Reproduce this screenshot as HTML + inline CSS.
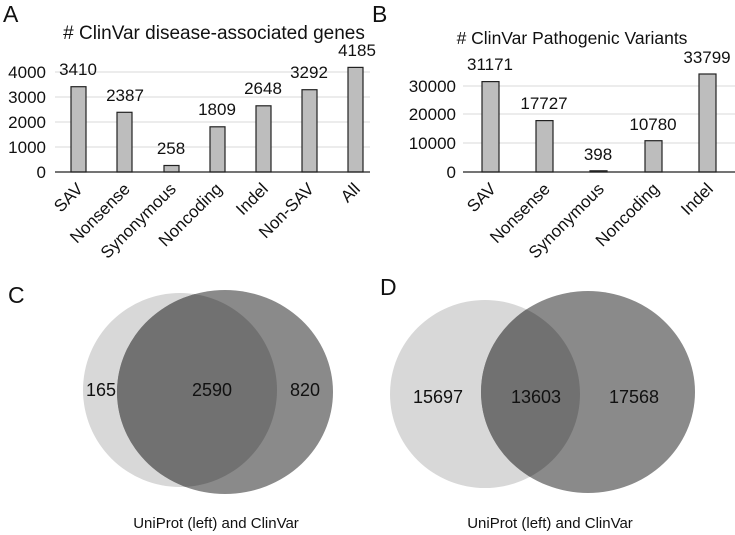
<!DOCTYPE html>
<html><head><meta charset="utf-8"><style>
html,body{margin:0;padding:0;background:#fff;}
svg{display:block;font-family:"Liberation Sans","DejaVu Sans",sans-serif;}
</style></head><body>
<svg width="735" height="535" viewBox="0 0 735 535" xmlns="http://www.w3.org/2000/svg">
<defs>
<clipPath id="cl"><ellipse cx="180" cy="390" rx="97" ry="97"/></clipPath>
<clipPath id="dl"><ellipse cx="485" cy="394" rx="95" ry="94"/></clipPath>
</defs>
<!-- Panel A -->
<text x="3" y="22" font-size="23" fill="#111">A</text>
<text x="214" y="39" font-size="19" text-anchor="middle" fill="#111"># ClinVar disease-associated genes</text>
<g stroke="#d9d9d9" stroke-width="1">
<line x1="55" y1="72" x2="370" y2="72"/><line x1="55" y1="97" x2="370" y2="97"/>
<line x1="55" y1="122" x2="370" y2="122"/><line x1="55" y1="147" x2="370" y2="147"/>
</g>
<g font-size="17" text-anchor="end" fill="#111">
<text x="46" y="78">4000</text><text x="46" y="103">3000</text><text x="46" y="128">2000</text><text x="46" y="153">1000</text><text x="46" y="178">0</text>
</g>
<g fill="#bdbdbd" stroke="#222" stroke-width="1.2">
<rect x="71" y="86.7" width="15" height="85.3"/>
<rect x="117" y="112.3" width="15" height="59.7"/>
<rect x="164" y="165.5" width="15" height="6.5"/>
<rect x="210" y="126.8" width="15" height="45.2"/>
<rect x="256" y="105.8" width="15" height="66.2"/>
<rect x="302" y="89.7" width="15" height="82.3"/>
<rect x="348" y="67.4" width="15" height="104.6"/>
</g>
<line x1="55" y1="172" x2="370" y2="172" stroke="#222" stroke-width="1.3"/>
<g font-size="17" text-anchor="middle" fill="#111">
<text x="78" y="75">3410</text><text x="125" y="101">2387</text><text x="171" y="154">258</text>
<text x="217" y="115">1809</text><text x="263" y="94">2648</text><text x="309" y="78">3292</text><text x="357" y="56">4185</text>
</g>
<g font-size="17" text-anchor="end" fill="#111">
<text transform="translate(84,190) rotate(-45)">SAV</text>
<text transform="translate(131,190) rotate(-45)">Nonsense</text>
<text transform="translate(177,190) rotate(-45)">Synonymous</text>
<text transform="translate(223,190) rotate(-45)">Noncoding</text>
<text transform="translate(269,190) rotate(-45)">Indel</text>
<text transform="translate(315,190) rotate(-45)">Non-SAV</text>
<text transform="translate(361,190) rotate(-45)">All</text>
</g>
<!-- Panel B -->
<text x="372" y="22" font-size="23" fill="#111">B</text>
<text x="572" y="44" font-size="17.5" text-anchor="middle" fill="#111"># ClinVar Pathogenic Variants</text>
<g stroke="#d9d9d9" stroke-width="1">
<line x1="463" y1="86" x2="735" y2="86"/><line x1="463" y1="114" x2="735" y2="114"/><line x1="463" y1="143" x2="735" y2="143"/>
</g>
<g font-size="17" text-anchor="end" fill="#111">
<text x="456" y="92">30000</text><text x="456" y="120">20000</text><text x="456" y="149">10000</text><text x="456" y="178">0</text>
</g>
<g fill="#bdbdbd" stroke="#222" stroke-width="1.2">
<rect x="482" y="81.6" width="17" height="90.4"/>
<rect x="536" y="120.6" width="17" height="51.4"/>
<rect x="590" y="170.8" width="17" height="1.2" fill="#222"/>
<rect x="645" y="140.7" width="17" height="31.3"/>
<rect x="699" y="74" width="17" height="98"/>
</g>
<line x1="463" y1="172" x2="735" y2="172" stroke="#222" stroke-width="1.3"/>
<g font-size="17" text-anchor="middle" fill="#111">
<text x="490" y="70">31171</text><text x="544" y="109">17727</text><text x="598" y="160">398</text>
<text x="653" y="130">10780</text><text x="707" y="63">33799</text>
</g>
<g font-size="17" text-anchor="end" fill="#111">
<text transform="translate(497,190) rotate(-45)">SAV</text>
<text transform="translate(551,190) rotate(-45)">Nonsense</text>
<text transform="translate(605,190) rotate(-45)">Synonymous</text>
<text transform="translate(660,190) rotate(-45)">Noncoding</text>
<text transform="translate(714,190) rotate(-45)">Indel</text>
</g>
<!-- Panel C -->
<text x="8" y="303" font-size="23" fill="#111">C</text>
<ellipse cx="180" cy="390" rx="97" ry="97" fill="#d8d8d8"/>
<ellipse cx="225" cy="392" rx="108" ry="102" fill="#8a8a8a"/>
<ellipse cx="225" cy="392" rx="108" ry="102" fill="#717171" clip-path="url(#cl)"/>
<g font-size="18" text-anchor="middle" fill="#111">
<text x="101" y="396">165</text><text x="212" y="396">2590</text><text x="305" y="396">820</text>
</g>
<text x="216" y="528" font-size="15" text-anchor="middle" fill="#111">UniProt (left) and ClinVar</text>
<!-- Panel D -->
<text x="380" y="295" font-size="23" fill="#111">D</text>
<ellipse cx="485" cy="394" rx="95" ry="94" fill="#d8d8d8"/>
<ellipse cx="588" cy="392" rx="107" ry="101" fill="#8a8a8a"/>
<ellipse cx="588" cy="392" rx="107" ry="101" fill="#717171" clip-path="url(#dl)"/>
<g font-size="18" text-anchor="middle" fill="#111">
<text x="438" y="403">15697</text><text x="536" y="403">13603</text><text x="634" y="403">17568</text>
</g>
<text x="550" y="528" font-size="15" text-anchor="middle" fill="#111">UniProt (left) and ClinVar</text>
</svg>
</body></html>
